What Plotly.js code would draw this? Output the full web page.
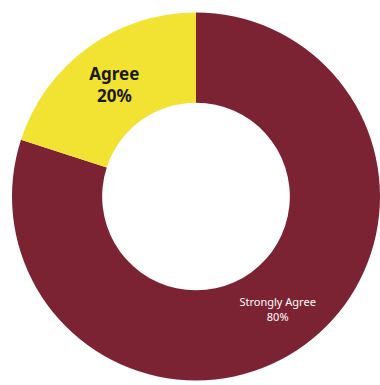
<!DOCTYPE html>
<html>
<head>
<meta charset="utf-8">
<script src="https://cdn.plot.ly/plotly-3.0.1.min.js"></script>
<style>html,body{margin:0;padding:0;background:#fff;}#chart{width:380px;height:385px;}</style>
</head>
<body>
<div id="chart"></div>
<script>
var categories = ["Strongly Agree", "Agree"];
var values = [80, 20];
var percentLabels = ["80%", "20%"];
var sliceColors = ["#7C2333", "#F2E232"];
var textColors = ["#ffffff", "#1a1a1a"];

var trace = {
  type: "pie",
  labels: categories,
  values: values,
  text: percentLabels,
  hole: 0.51,
  sort: false,
  direction: "clockwise",
  rotation: 0,
  marker: { colors: sliceColors, line: { width: 0 } },
  textinfo: "text",
  texttemplate: ["%{label}<br>%{text}", "<b>%{label}</b><br><b>%{text}</b>"],
  textposition: "inside",
  insidetextorientation: "horizontal",
  textfont: { family: "Noto Sans", size: [11, 17], color: textColors },
  hoverinfo: "none",
  showlegend: false,
  domain: { x: [12 / 380, 1], y: [0, 1 - 8 / 385] }
};

var layout = {
  width: 380,
  height: 385,
  margin: { l: 0, r: 0, t: 0, b: 0 },
  paper_bgcolor: "#ffffff",
  plot_bgcolor: "#ffffff",
  showlegend: false
};

Plotly.newPlot("chart", [trace], layout, { displayModeBar: false, staticPlot: true });
</script>
</body>
</html>
